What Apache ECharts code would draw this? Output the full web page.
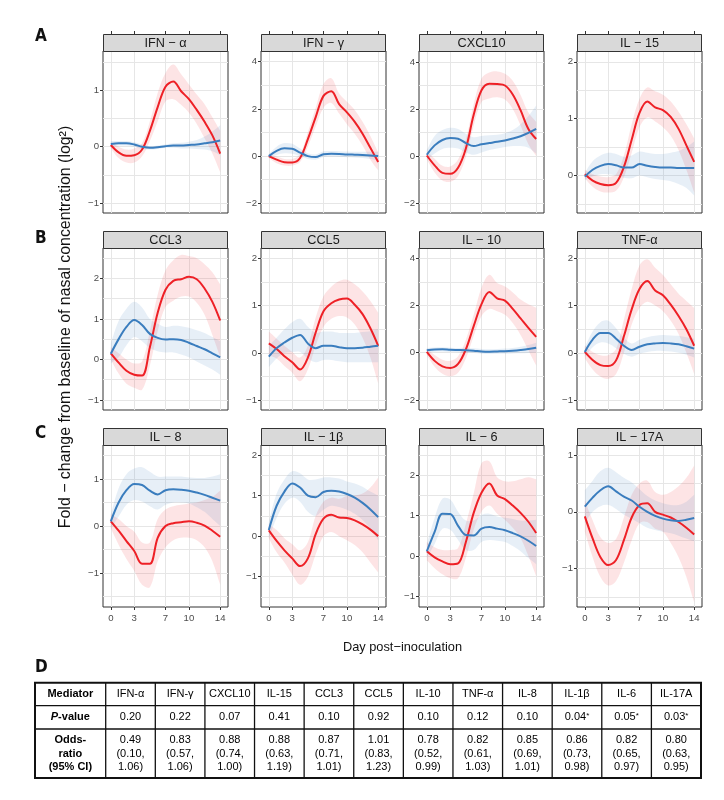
<!DOCTYPE html>
<html>
<head>
<meta charset="utf-8">
<script src="https://cdn.jsdelivr.net/npm/echarts@6/dist/echarts.min.js"></script>
<style>html,body{margin:0;padding:0;background:#fff}#c{width:724px;height:800px}</style>
</head>
<body>
<div id="c"></div>
<script>
// ---------------- data ----------------
const days = [0,1,2,3,4,5,6,7,8,9,10,11,12,13,14];
const xTicks = [0,3,7,10,14];

const panelTitles = ['IFN − α','IFN − γ','CXCL10','IL − 15','CCL3','CCL5','IL − 10','TNF-α','IL − 8','IL − 1β','IL − 6','IL − 17A'];
const yMin = [-1.17,-2.41,-2.43,-0.66,-1.25,-1.21,-2.43,-1.21,-1.72,-1.75,-1.26,-1.68];
const yMax = [ 1.69, 4.45, 4.47, 2.19, 2.75, 2.22, 4.43, 2.22, 1.72, 2.25, 2.75, 1.18];
const yBreaks = [[-1,0,1],[-2,0,2,4],[-2,0,2,4],[0,1,2],[-1,0,1,2],[-1,0,1,2],[-2,0,2,4],[-1,0,1,2],[-1,0,1],[-1,0,1,2],[-1,0,1,2],[-1,0,1]];

// IFN-α
const ifna_red    = [0.03,-0.1,-0.16,-0.15,-0.05,0.28,0.7,1.06,1.15,0.98,0.84,0.65,0.44,0.2,-0.12];
const ifna_redLo  = [-0.03,-0.2,-0.28,-0.28,-0.17,0.1,0.45,0.8,0.84,0.74,0.6,0.4,0.15,-0.12,-0.45];
const ifna_redHi  = [0.08,0.0,-0.05,-0.03,0.06,0.45,0.95,1.3,1.45,1.28,1.1,0.92,0.75,0.52,0.28];
const ifna_blue   = [0.05,0.06,0.06,0.04,0.0,-0.02,-0.01,0.01,0.02,0.02,0.03,0.04,0.06,0.08,0.11];
const ifna_blueLo = [0.0,0.02,0.02,0.0,-0.04,-0.05,-0.04,-0.02,-0.02,-0.03,-0.03,-0.04,-0.05,-0.08,-0.15];
const ifna_blueHi = [0.1,0.1,0.1,0.08,0.04,0.01,0.02,0.04,0.06,0.07,0.09,0.12,0.18,0.27,0.38];
// IFN-γ
const ifng_red    = [0.0,-0.15,-0.26,-0.27,-0.08,0.72,1.65,2.55,2.75,2.2,1.85,1.45,0.95,0.35,-0.25];
const ifng_redLo  = [-0.08,-0.3,-0.4,-0.4,-0.25,0.4,1.25,2.05,2.25,1.8,1.35,0.95,0.45,-0.15,-0.6];
const ifng_redHi  = [0.08,-0.02,-0.12,-0.12,0.08,1.02,2.05,3.05,3.3,2.65,2.3,1.95,1.45,0.85,0.15];
const ifng_blue   = [0.0,0.22,0.33,0.31,0.15,0.0,-0.04,0.08,0.1,0.09,0.07,0.06,0.05,0.03,0.0];
const ifng_blueLo = [-0.08,0.05,0.12,0.1,0.0,-0.12,-0.15,-0.04,-0.02,-0.03,-0.05,-0.06,-0.08,-0.12,-0.18];
const ifng_blueHi = [0.08,0.4,0.55,0.52,0.32,0.12,0.07,0.2,0.22,0.21,0.19,0.18,0.18,0.18,0.18];
// CXCL10
const cxcl10_red    = [0.02,-0.4,-0.72,-0.76,-0.5,0.32,1.75,2.8,3.08,3.06,3.0,2.62,1.95,1.15,0.72];
const cxcl10_redLo  = [-0.15,-0.7,-1.05,-1.1,-0.85,-0.05,1.3,2.3,2.45,2.5,2.4,2.0,1.3,0.5,0.0];
const cxcl10_redHi  = [0.2,-0.12,-0.42,-0.45,-0.15,0.7,2.2,3.3,3.55,3.6,3.5,3.2,2.6,1.85,1.45];
const cxcl10_blue   = [0.05,0.45,0.68,0.76,0.73,0.55,0.42,0.5,0.55,0.6,0.66,0.74,0.84,0.98,1.15];
const cxcl10_blueLo = [-0.15,0.1,0.3,0.35,0.32,0.15,0.05,0.15,0.25,0.32,0.38,0.42,0.42,0.35,0.1];
const cxcl10_blueHi = [0.25,0.85,1.1,1.2,1.15,0.95,0.8,0.85,0.88,0.9,0.97,1.1,1.35,1.7,2.15];
// IL-15
const il15_red    = [0.02,-0.09,-0.15,-0.17,-0.13,0.15,0.63,1.1,1.3,1.2,1.15,1.03,0.82,0.53,0.24];
const il15_redLo  = [-0.05,-0.2,-0.28,-0.3,-0.27,-0.03,0.4,0.85,1.02,0.95,0.85,0.7,0.45,0.1,-0.3];
const il15_redHi  = [0.1,0.02,-0.02,-0.03,0.02,0.35,0.9,1.35,1.55,1.48,1.42,1.3,1.12,0.9,0.65];
const il15_blue   = [-0.02,0.1,0.17,0.2,0.18,0.14,0.14,0.2,0.17,0.15,0.14,0.14,0.13,0.13,0.13];
const il15_blueLo = [-0.08,-0.02,0.02,0.02,0.0,-0.04,-0.05,0.0,-0.03,-0.06,-0.08,-0.1,-0.15,-0.22,-0.35];
const il15_blueHi = [0.05,0.25,0.35,0.4,0.38,0.33,0.35,0.42,0.4,0.38,0.38,0.4,0.43,0.5,0.6];
// CCL3
const ccl3_red    = [0.15,-0.08,-0.28,-0.38,-0.4,0.3,1.15,1.72,1.94,1.98,2.04,1.98,1.75,1.42,0.96];
const ccl3_redLo  = [0.0,-0.35,-0.6,-0.7,-0.75,-0.15,0.7,1.3,1.45,1.55,1.55,1.4,1.1,0.6,0.05];
const ccl3_redHi  = [0.3,0.15,0.0,-0.1,-0.05,0.7,1.6,2.2,2.45,2.58,2.55,2.5,2.35,2.15,1.85];
const ccl3_blue   = [0.14,0.5,0.8,0.97,0.85,0.63,0.53,0.49,0.5,0.48,0.41,0.33,0.25,0.15,0.05];
const ccl3_blueLo = [-0.1,0.05,0.35,0.55,0.45,0.28,0.2,0.17,0.17,0.12,0.05,-0.05,-0.15,-0.25,-0.38];
const ccl3_blueHi = [0.4,0.95,1.25,1.42,1.28,1.0,0.88,0.8,0.83,0.82,0.78,0.72,0.65,0.55,0.45];
// CCL5
const ccl5_red    = [0.2,0.08,-0.07,-0.2,-0.35,-0.1,0.43,0.88,1.05,1.13,1.15,1.02,0.82,0.52,0.15];
const ccl5_redLo  = [-0.05,-0.12,-0.28,-0.42,-0.6,-0.35,0.15,0.55,0.72,0.78,0.75,0.6,0.32,-0.1,-0.65];
const ccl5_redHi  = [0.45,0.3,0.15,0.02,-0.1,0.15,0.75,1.2,1.4,1.52,1.55,1.45,1.3,1.1,0.85];
const ccl5_blue   = [-0.08,0.1,0.22,0.32,0.38,0.2,0.1,0.15,0.15,0.12,0.1,0.1,0.11,0.13,0.15];
const ccl5_blueLo = [-0.3,-0.12,0.0,0.02,0.02,-0.12,-0.2,-0.15,-0.15,-0.18,-0.2,-0.2,-0.2,-0.2,-0.2];
const ccl5_blueHi = [0.15,0.32,0.5,0.65,0.72,0.55,0.42,0.45,0.45,0.42,0.42,0.42,0.44,0.46,0.5];
// IL-10
const il10_red    = [0.03,-0.35,-0.58,-0.65,-0.48,0.14,1.12,2.05,2.57,2.3,2.2,1.85,1.45,1.05,0.67];
const il10_redLo  = [-0.1,-0.6,-0.9,-1.0,-0.85,-0.25,0.7,1.55,1.85,1.75,1.6,1.25,0.75,0.1,-0.55];
const il10_redHi  = [0.15,-0.1,-0.3,-0.35,-0.15,0.55,1.6,2.75,3.3,2.95,2.8,2.55,2.25,2.05,1.9];
const il10_blue   = [0.1,0.13,0.14,0.12,0.11,0.1,0.08,0.05,0.04,0.05,0.06,0.08,0.11,0.15,0.21];
const il10_blueLo = [0.0,0.04,0.05,0.03,0.02,0.0,-0.02,-0.05,-0.06,-0.05,-0.05,-0.04,-0.03,-0.02,0.0];
const il10_blueHi = [0.2,0.22,0.23,0.21,0.2,0.2,0.18,0.15,0.14,0.15,0.17,0.2,0.25,0.32,0.42];
// TNF-α
const tnfa_red    = [0.02,-0.15,-0.26,-0.28,-0.16,0.35,0.92,1.35,1.52,1.32,1.22,1.02,0.78,0.5,0.15];
const tnfa_redLo  = [-0.12,-0.35,-0.5,-0.55,-0.45,0.0,0.6,0.95,1.08,1.0,0.88,0.68,0.4,0.0,-0.45];
const tnfa_redHi  = [0.15,0.02,-0.05,-0.05,0.08,0.7,1.35,1.85,1.98,1.8,1.65,1.45,1.25,1.1,0.95];
const tnfa_blue   = [0.02,0.28,0.42,0.42,0.3,0.15,0.06,0.13,0.18,0.2,0.21,0.2,0.18,0.14,0.09];
const tnfa_blueLo = [-0.08,0.12,0.22,0.2,0.1,-0.02,-0.08,-0.02,0.02,0.04,0.04,0.03,0.0,-0.04,-0.1];
const tnfa_blueHi = [0.12,0.45,0.65,0.68,0.52,0.32,0.2,0.28,0.33,0.36,0.38,0.37,0.36,0.33,0.3];
// IL-8
const il8_red    = [0.1,-0.1,-0.32,-0.53,-0.8,-0.8,-0.25,0.0,0.06,0.08,0.1,0.07,0.01,-0.1,-0.23];
const il8_redLo  = [-0.05,-0.4,-0.7,-0.95,-1.25,-1.3,-0.75,-0.45,-0.3,-0.25,-0.25,-0.3,-0.45,-0.75,-1.25];
const il8_redHi  = [0.25,0.15,0.0,-0.12,-0.35,-0.35,0.15,0.35,0.42,0.45,0.48,0.5,0.55,0.62,0.75];
const il8_blue   = [0.1,0.5,0.76,0.89,0.87,0.75,0.67,0.76,0.78,0.77,0.75,0.71,0.66,0.6,0.54];
const il8_blueLo = [-0.05,0.2,0.45,0.55,0.52,0.42,0.35,0.45,0.5,0.5,0.48,0.4,0.3,0.15,0.0];
const il8_blueHi = [0.25,0.8,1.1,1.22,1.25,1.15,1.05,1.05,1.05,1.05,1.03,1.02,1.02,1.05,1.1];
// IL-1β
const il1b_red    = [0.14,-0.12,-0.35,-0.55,-0.74,-0.55,0.05,0.43,0.53,0.46,0.45,0.39,0.29,0.16,0.0];
const il1b_redLo  = [-0.05,-0.4,-0.65,-0.95,-1.2,-1.0,-0.45,0.0,0.1,0.0,-0.1,-0.22,-0.4,-0.65,-0.9];
const il1b_redHi  = [0.3,0.15,-0.05,-0.2,-0.35,-0.15,0.5,0.85,0.95,0.92,1.0,1.0,1.05,1.2,1.45];
const il1b_blue   = [0.15,0.75,1.1,1.3,1.2,1.0,0.96,1.09,1.12,1.1,1.04,0.95,0.82,0.66,0.47];
const il1b_blueLo = [-0.05,0.45,0.8,0.95,0.85,0.6,0.5,0.65,0.75,0.72,0.65,0.55,0.4,0.18,-0.1];
const il1b_blueHi = [0.35,1.05,1.4,1.6,1.55,1.4,1.4,1.45,1.45,1.42,1.35,1.3,1.22,1.1,1.0];
// IL-6
const il6_red    = [0.12,-0.03,-0.13,-0.2,-0.18,0.35,1.07,1.57,1.8,1.5,1.41,1.25,1.07,0.85,0.57];
const il6_redLo  = [-0.1,-0.3,-0.45,-0.55,-0.55,-0.05,0.65,1.1,1.25,1.05,0.9,0.7,0.45,0.0,-0.5];
const il6_redHi  = [0.35,0.22,0.15,0.15,0.2,0.8,1.55,2.3,2.35,1.95,1.85,1.85,1.9,1.95,1.9];
const il6_blue   = [0.12,0.6,1.05,1.04,0.75,0.52,0.51,0.68,0.72,0.68,0.64,0.57,0.49,0.38,0.25];
const il6_blueLo = [-0.05,0.3,0.68,0.65,0.4,0.15,0.15,0.35,0.4,0.38,0.35,0.25,0.12,-0.05,-0.2];
const il6_blueHi = [0.3,0.95,1.42,1.4,1.1,0.88,0.88,1.02,1.05,0.98,0.95,0.92,0.88,0.88,0.9];
// IL-17A
const il17a_red    = [-0.08,-0.47,-0.8,-0.94,-0.85,-0.5,-0.1,0.12,0.15,0.0,-0.05,-0.1,-0.18,-0.28,-0.4];
const il17a_redLo  = [-0.35,-0.8,-1.15,-1.3,-1.22,-0.9,-0.5,-0.2,-0.18,-0.3,-0.35,-0.55,-0.8,-1.15,-1.6];
const il17a_redHi  = [0.2,-0.15,-0.45,-0.55,-0.48,-0.1,0.3,0.5,0.55,0.35,0.3,0.35,0.45,0.6,0.82];
const il17a_blue   = [0.09,0.25,0.38,0.45,0.36,0.27,0.2,0.09,0.0,-0.07,-0.12,-0.15,-0.16,-0.14,-0.11];
const il17a_blueLo = [-0.2,0.0,0.1,0.12,0.05,-0.05,-0.12,-0.2,-0.28,-0.32,-0.35,-0.38,-0.42,-0.47,-0.52];
const il17a_blueHi = [0.38,0.55,0.72,0.78,0.7,0.6,0.52,0.4,0.28,0.2,0.15,0.12,0.12,0.18,0.3];

// table
const tableMediators = ['IFN-α','IFN-γ','CXCL10','IL-15','CCL3','CCL5','IL-10','TNF-α','IL-8','IL-1β','IL-6','IL-17A'];
const pValues   = [0.20,0.22,0.07,0.41,0.10,0.92,0.10,0.12,0.10,0.04,0.05,0.03];
const oddsRatio = [0.49,0.83,0.88,0.88,0.87,1.01,0.78,0.82,0.85,0.86,0.82,0.80];
const ciLow     = [0.10,0.57,0.74,0.63,0.71,0.83,0.52,0.61,0.69,0.73,0.65,0.63];
const ciHigh    = [1.06,1.06,1.00,1.19,1.01,1.23,0.99,1.03,1.01,0.98,0.97,0.95];

// ---------------- build ----------------
const panels = [
  [ifna_red,ifna_redLo,ifna_redHi,ifna_blue,ifna_blueLo,ifna_blueHi],
  [ifng_red,ifng_redLo,ifng_redHi,ifng_blue,ifng_blueLo,ifng_blueHi],
  [cxcl10_red,cxcl10_redLo,cxcl10_redHi,cxcl10_blue,cxcl10_blueLo,cxcl10_blueHi],
  [il15_red,il15_redLo,il15_redHi,il15_blue,il15_blueLo,il15_blueHi],
  [ccl3_red,ccl3_redLo,ccl3_redHi,ccl3_blue,ccl3_blueLo,ccl3_blueHi],
  [ccl5_red,ccl5_redLo,ccl5_redHi,ccl5_blue,ccl5_blueLo,ccl5_blueHi],
  [il10_red,il10_redLo,il10_redHi,il10_blue,il10_blueLo,il10_blueHi],
  [tnfa_red,tnfa_redLo,tnfa_redHi,tnfa_blue,tnfa_blueLo,tnfa_blueHi],
  [il8_red,il8_redLo,il8_redHi,il8_blue,il8_blueLo,il8_blueHi],
  [il1b_red,il1b_redLo,il1b_redHi,il1b_blue,il1b_blueLo,il1b_blueHi],
  [il6_red,il6_redLo,il6_redHi,il6_blue,il6_blueLo,il6_blueHi],
  [il17a_red,il17a_redLo,il17a_redHi,il17a_blue,il17a_blueLo,il17a_blueHi]
];

const FONT = '"Liberation Sans", Arial, Helvetica, sans-serif';
const RED = '#EE2026', BLUE = '#3A7DBE';
const RED_BAND = 'rgba(240,32,38,0.12)', BLUE_BAND = 'rgba(58,125,190,0.12)';
const colLeft = [103, 261, 419, 577];
const rowTop = [51, 248, 445];
const PW = 125, PH = 162, STRIP = 17;
const SMOOTH = 0.35;

function minusFmt(v){ return String(v).replace('-', '−'); }

function ctrlPts(pts, s) {
  const n = pts.length;
  return pts.map((p, i) => {
    const prev = pts[Math.max(i - 1, 0)], next = pts[Math.min(i + 1, n - 1)];
    const vx = (next[0] - prev[0]) * s, vy = (next[1] - prev[1]) * s;
    const d0 = Math.hypot(p[0] - prev[0], p[1] - prev[1]);
    const d1 = Math.hypot(next[0] - p[0], next[1] - p[1]);
    const r = (d0 + d1) > 0 ? d1 / (d0 + d1) : 0.5;
    return { back: [p[0] - vx * (1 - r), p[1] - vy * (1 - r)], fwd: [p[0] + vx * r, p[1] + vy * r] };
  });
}
function curve(pts, s, start) {
  const c = ctrlPts(pts, s);
  let d = (start ? 'M' : 'L') + pts[0][0] + ' ' + pts[0][1];
  for (let i = 1; i < pts.length; i++) {
    d += ' C' + c[i-1].fwd[0] + ' ' + c[i-1].fwd[1] + ' ' + c[i].back[0] + ' ' + c[i].back[1] + ' ' + pts[i][0] + ' ' + pts[i][1];
  }
  return d;
}
function bandPath(up, dn) {
  return curve(up, SMOOTH, true) + ' ' + curve(dn.slice().reverse(), SMOOTH, false) + ' Z';
}

const grids = [], xAxes = [], yAxes = [], series = [], graphics = [];

panels.forEach((arr, i) => {
  const r = Math.floor(i / 4), c = i % 4;
  const left = colLeft[c], top = rowTop[r];
  const [red, redLo, redHi, blue, blueLo, blueHi] = arr;
  grids.push({ left: left, top: top, width: PW, height: PH, show: true, borderColor: '#333', borderWidth: 1, backgroundColor: '#fff', containLabel: false, outerBoundsMode: 'none' });

  xAxes.push({
    type: 'value', gridIndex: i, min: -1, max: 15, position: 'bottom',
    axisLine: { show: false, onZero: false },
    axisTick: { show: r === 2, length: 3, customValues: xTicks, lineStyle: { color: '#333', width: 1 } },
    axisLabel: { show: r === 2, customValues: xTicks, margin: 6, fontSize: 9.6, color: '#4d4d4d', fontFamily: FONT },
    splitLine: { show: true, lineStyle: { color: '#e6e6e6', width: 1 } }
  });

  const br = yBreaks[i];
  const step = br[1] - br[0];
  const gridVals = [];
  for (let v = br[0] - step; v <= br[br.length - 1] + step + 1e-9; v += step / 2) {
    const vv = Math.round(v * 100) / 100;
    if (vv > yMin[i] && vv < yMax[i]) gridVals.push(vv);
  }
  yAxes.push({
    type: 'value', gridIndex: i, min: yMin[i], max: yMax[i], position: 'left',
    axisLine: { show: false, onZero: false },
    axisTick: { show: true, length: 3, customValues: br, lineStyle: { color: '#333', width: 1 } },
    axisLabel: { show: true, customValues: br, margin: 4, fontSize: 9.6, color: '#4d4d4d', fontFamily: FONT, formatter: minusFmt },
    splitLine: { show: false }
  });
  yAxes.push({
    type: 'value', gridIndex: i, min: yMin[i], max: yMax[i], position: 'left',
    axisLine: { show: false, onZero: false },
    axisTick: { show: false, customValues: gridVals },
    axisLabel: { show: false },
    splitLine: { show: true, lineStyle: { color: '#e6e6e6', width: 1 } }
  });

  const bands = [[redLo, redHi, RED_BAND], [blueLo, blueHi, BLUE_BAND]];
  bands.forEach(([lo, hi, col]) => {
    series.push({
      type: 'custom', xAxisIndex: i, yAxisIndex: 2 * i, silent: true, z: 1,
      data: [[days[0], lo[0]]],
      renderItem: (params, api) => {
        const up = days.map((d, k) => api.coord([d, hi[k]]));
        const dn = days.map((d, k) => api.coord([d, lo[k]]));
        return { type: 'path', shape: { pathData: bandPath(up, dn) }, style: { fill: col, stroke: null } };
      }
    });
  });
  [[red, RED], [blue, BLUE]].forEach(([m, col]) => {
    series.push({
      type: 'line', xAxisIndex: i, yAxisIndex: 2 * i, silent: true, z: 3,
      data: days.map((d, k) => [d, m[k]]),
      smooth: SMOOTH, symbol: 'none',
      lineStyle: { color: col, width: 2 }, itemStyle: { color: col }
    });
  });

  graphics.push({ type: 'rect', z: 50, shape: { x: left + 0.5, y: top - STRIP + 0.5, width: PW - 1, height: STRIP }, style: { fill: '#d9d9d9', stroke: '#333', lineWidth: 1 } });
  graphics.push({ type: 'text', z: 51, x: left + PW / 2, y: top - STRIP / 2 + 0.5, style: { text: panelTitles[i], align: 'center', verticalAlign: 'middle', font: '12.7px ' + FONT, fill: '#1a1a1a' } });
});

for (let c = 0; c < 4; c++) {
  xAxes.push({
    type: 'value', gridIndex: c, min: -1, max: 15, position: 'top', offset: STRIP,
    axisLine: { show: false, onZero: false },
    axisTick: { show: true, length: 3, customValues: xTicks, lineStyle: { color: '#333', width: 1 } },
    axisLabel: { show: false }, splitLine: { show: false }
  });
}

const LETTER_FONT = 'bold 17px "Liberation Sans Narrow", "DejaVu Sans Condensed", "Liberation Sans", Arial, sans-serif';
[['A', 37], ['B', 239], ['C', 434], ['D', 667.5]].forEach(([t, y]) => {
  graphics.push({ type: 'text', x: 35, y: y, style: { text: t, align: 'left', verticalAlign: 'middle', font: LETTER_FONT, fill: '#111' } });
});
graphics.push({ type: 'text', x: 66, y: 327, rotation: Math.PI / 2, style: { text: 'Fold − change from baseline of nasal concentration (log²)', align: 'center', verticalAlign: 'middle', font: '15.9px ' + FONT, fill: '#111' } });
graphics.push({ type: 'text', x: 402.5, y: 647, style: { text: 'Day post−inoculation', align: 'center', verticalAlign: 'middle', font: '12.8px ' + FONT, fill: '#111' } });

// table
const tX0 = 35, tX1 = 105.7, tX2 = 701;
const tY = [682.7, 705.7, 729, 778];
const cw = (tX2 - tX1) / tableMediators.length;
const TFONT = '11px ' + FONT;
for (let k = 1; k < 3; k++) graphics.push({ type: 'line', z: 60, shape: { x1: tX0, y1: tY[k], x2: tX2, y2: tY[k] }, style: { stroke: '#111', lineWidth: 1.3 } });
for (let k = 0; k < tableMediators.length; k++) {
  const x = tX1 + cw * k;
  graphics.push({ type: 'line', z: 60, shape: { x1: x, y1: tY[0], x2: x, y2: tY[3] }, style: { stroke: '#111', lineWidth: 1.3 } });
}
graphics.push({ type: 'rect', z: 61, shape: { x: tX0, y: tY[0], width: tX2 - tX0, height: tY[3] - tY[0] }, style: { fill: null, stroke: '#111', lineWidth: 2 } });
const rc = [(tY[0] + tY[1]) / 2, (tY[1] + tY[2]) / 2, (tY[2] + tY[3]) / 2];
graphics.push({ type: 'text', z: 62, x: (tX0 + tX1) / 2, y: rc[0], style: { text: 'Mediator', align: 'center', verticalAlign: 'middle', font: 'bold ' + TFONT, fill: '#000' } });
graphics.push({ type: 'text', z: 62, x: (tX0 + tX1) / 2, y: rc[1], style: { text: '{i|P}{b|-value}', align: 'center', verticalAlign: 'middle', fill: '#000', rich: { i: { font: 'italic bold ' + TFONT }, b: { font: 'bold ' + TFONT } } } });
graphics.push({ type: 'text', z: 62, x: (tX0 + tX1) / 2, y: rc[2], style: { text: 'Odds-\nratio\n(95% CI)', align: 'center', verticalAlign: 'middle', font: 'bold ' + TFONT, lineHeight: 13.3, fill: '#000' } });
tableMediators.forEach((m, k) => {
  const cx = tX1 + cw * (k + 0.5);
  graphics.push({ type: 'text', z: 62, x: cx, y: rc[0], style: { text: m, align: 'center', verticalAlign: 'middle', font: TFONT, fill: '#000' } });
  const star = pValues[k] <= 0.05 ? '{s|*}' : '';
  graphics.push({ type: 'text', z: 62, x: cx, y: rc[1], style: { text: '{n|' + pValues[k].toFixed(2) + '}' + star, align: 'center', verticalAlign: 'middle', fill: '#000', rich: { n: { font: TFONT }, s: { font: '8px ' + FONT, verticalAlign: 'top' } } } });
  graphics.push({ type: 'text', z: 62, x: cx, y: rc[2], style: { text: oddsRatio[k].toFixed(2) + '\n(' + ciLow[k].toFixed(2) + ',\n' + ciHigh[k].toFixed(2) + ')', align: 'center', verticalAlign: 'middle', font: TFONT, lineHeight: 13.3, fill: '#000' } });
});

const chart = echarts.init(document.getElementById('c'), null, { renderer: 'canvas', width: 724, height: 800 });
chart.setOption({
  animation: false,
  backgroundColor: '#fff',
  grid: grids,
  xAxis: xAxes,
  yAxis: yAxes,
  series: series,
  graphic: graphics
});
</script>
</body>
</html>
